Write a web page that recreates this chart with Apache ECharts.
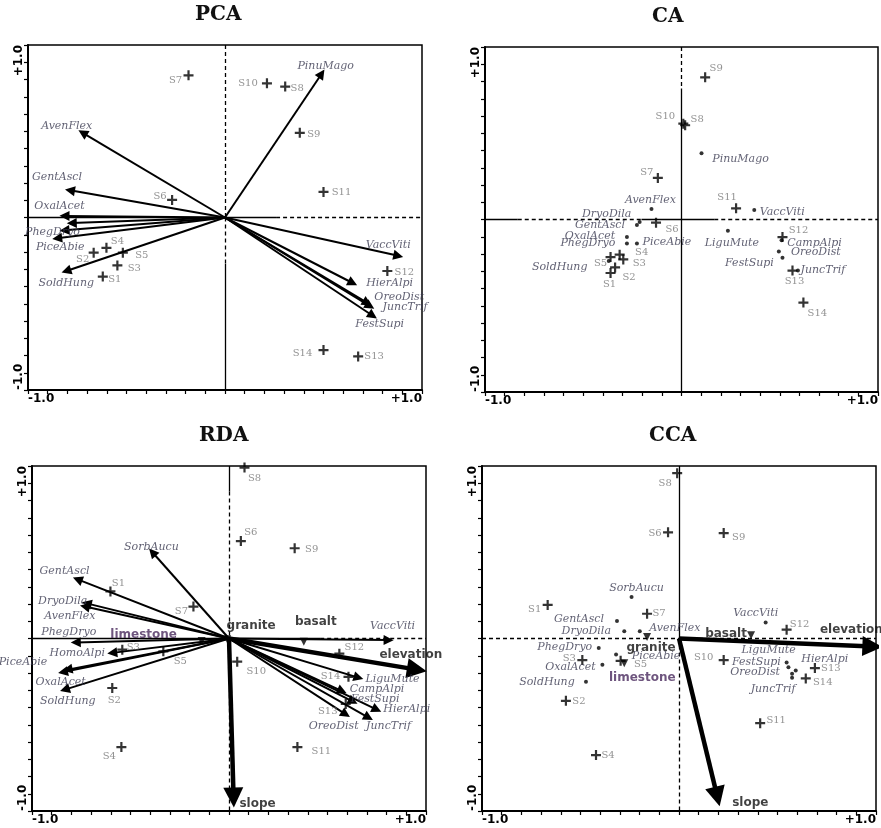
<!DOCTYPE html>
<html>
<head>
<meta charset="utf-8">
<script src="https://cdn.jsdelivr.net/npm/echarts@6/dist/echarts.min.js"></script>
<style>
html, body { margin: 0; background: #fff; }
#chart { width: 881px; height: 828px; }
</style>
</head>
<body>
<div id="chart"></div>
<script>
// axis half-range in ordination units, ticks every tenth of it
const AX = 1.08;
const tickLabels = ['-1.0', '+1.0'];
const titles = ['PCA', 'CA', 'RDA', 'CCA'];

// ---- PCA ----
const pcaSpecies = [
    ['PinuMago', 0.53, 0.90], ['AvenFlex', -0.78, 0.53], ['GentAscl', -0.85, 0.17],
    ['OxalAcet', -0.88, 0.01], ['DryoDila', -0.84, -0.035], ['PhegDryo', -0.88, -0.08],
    ['PiceAbie', -0.92, -0.13], ['SoldHung', -0.87, -0.335], ['VaccViti', 0.95, -0.24],
    ['HierAlpi', 0.70, -0.41], ['OreoDist', 0.78, -0.535], ['JuncTrif', 0.795, -0.555],
    ['FestSupi', 0.81, -0.615]
];
const pcaSites = [
    ['S7', -0.20, 0.89], ['S10', 0.23, 0.84], ['S8', 0.33, 0.82], ['S9', 0.41, 0.53],
    ['S11', 0.54, 0.16], ['S6', -0.29, 0.11], ['S4', -0.65, -0.19], ['S2', -0.72, -0.22],
    ['S5', -0.56, -0.22], ['S3', -0.59, -0.30], ['S1', -0.67, -0.37], ['S14', 0.54, -0.83],
    ['S13', 0.73, -0.87], ['S12', 0.89, -0.335]
];

// ---- CA ----
const caSpecies = [
    ['PinuMago', 0.11, 0.415], ['AvenFlex', -0.165, 0.065], ['VaccViti', 0.40, 0.06],
    ['DryoDila', -0.23, -0.015], ['GentAscl', -0.245, -0.035], ['OxalAcet', -0.30, -0.11],
    ['PhegDryo', -0.30, -0.15], ['PiceAbie', -0.245, -0.15], ['SoldHung', -0.40, -0.26],
    ['LiguMute', 0.255, -0.07], ['CampAlpi', 0.55, -0.13], ['OreoDist', 0.535, -0.20],
    ['FestSupi', 0.555, -0.24], ['JuncTrif', 0.64, -0.32]
];
const caSites = [
    ['S9', 0.13, 0.89], ['S10', 0.01, 0.60], ['S8', 0.02, 0.59], ['S7', -0.13, 0.26],
    ['S11', 0.30, 0.07], ['S6', -0.14, -0.02], ['S4', -0.34, -0.22], ['S3', -0.32, -0.25],
    ['S5', -0.39, -0.235], ['S2', -0.365, -0.30], ['S1', -0.39, -0.335], ['S12', 0.555, -0.11],
    ['S13', 0.61, -0.32], ['S14', 0.67, -0.52]
];

// ---- RDA ----
const rdaSpecies = [
    ['SorbAucu', -0.42, 0.54], ['GentAscl', -0.83, 0.37], ['DryoDila', -0.78, 0.22],
    ['AvenFlex', -0.79, 0.20], ['PhegDryo', -0.84, -0.025], ['HomoAlpi', -0.64, -0.09],
    ['PiceAbie', -0.91, -0.21], ['OxalAcet', -0.885, -0.195], ['SoldHung', -0.90, -0.32],
    ['VaccViti', 0.875, -0.01], ['LiguMute', 0.71, -0.245], ['CampAlpi', 0.62, -0.33],
    ['FestSupi', 0.68, -0.395], ['HierAlpi', 0.81, -0.445], ['JuncTrif', 0.765, -0.495],
    ['OreoDist', 0.64, -0.475]
];
const rdaEnv = [['elevation', 1.03, -0.195], ['slope', 0.025, -0.995]];
const rdaNominal = [['granite', -0.01, -0.005], ['basalt', 0.41, -0.02], ['limestone', -0.15, -0.015]];
const rdaSites = [
    ['S8', 0.085, 1.07], ['S6', 0.065, 0.61], ['S9', 0.36, 0.565], ['S7', -0.195, 0.20],
    ['S1', -0.65, 0.295], ['S3', -0.585, -0.07], ['S5', -0.36, -0.08], ['S2', -0.64, -0.31],
    ['S4', -0.59, -0.68], ['S10', 0.045, -0.145], ['S12', 0.605, -0.095], ['S14', 0.655, -0.24],
    ['S13', 0.64, -0.41], ['S11', 0.375, -0.68]
];

// ---- CCA ----
const ccaSpecies = [
    ['SorbAucu', -0.26, 0.26], ['GentAscl', -0.34, 0.11], ['DryoDila', -0.30, 0.045],
    ['AvenFlex', -0.215, 0.045], ['VaccViti', 0.475, 0.10], ['PhegDryo', -0.44, -0.06],
    ['OxalAcet', -0.42, -0.165], ['SoldHung', -0.51, -0.27], ['PiceAbie', -0.345, -0.10],
    ['LiguMute', 0.59, -0.15], ['HierAlpi', 0.64, -0.20], ['FestSupi', 0.60, -0.18],
    ['OreoDist', 0.62, -0.22], ['JuncTrif', 0.62, -0.245]
];
const ccaEnv = [['elevation', 1.06, -0.05], ['slope', 0.21, -0.99]];
const ccaNominal = [['granite', -0.175, 0.01], ['basalt', 0.395, 0.02], ['limestone', -0.30, -0.155]];
const ccaSites = [
    ['S8', -0.01, 1.035], ['S6', -0.06, 0.665], ['S9', 0.245, 0.66], ['S1', -0.72, 0.21],
    ['S7', -0.175, 0.155], ['S12', 0.59, 0.055], ['S3', -0.53, -0.135], ['S5', -0.32, -0.14],
    ['S2', -0.62, -0.39], ['S4', -0.455, -0.73], ['S10', 0.245, -0.135], ['S13', 0.745, -0.185],
    ['S14', 0.695, -0.25], ['S11', 0.445, -0.53]
];

// label offsets (px from the point to the label centre)
const pcaLabelAt = {
    PinuMago: [4, -8], AvenFlex: [-16, -7], GentAscl: [-13, -13], OxalAcet: [-5, -10],
    PhegDryo: [-12, 2], PiceAbie: [3, 9], SoldHung: [0, 12], VaccViti: [-10, -11],
    HierAlpi: [37, 0], OreoDist: [32, -6], JuncTrif: [35, 1], FestSupi: [7, 8],
    S7: [-13, 5], S10: [-19, 0], S8: [12, 2], S9: [14, 2], S11: [18, 0], S6: [-12, -4],
    S4: [11, -6], S2: [-11, 7], S5: [19, 3], S3: [17, 3], S1: [12, 3], S14: [-21, 3],
    S13: [16, 0], S12: [17, 1]
};
const caLabelAt = {
    S9: [11, -9], S10: [-18, -7], S8: [12, -6], S7: [-11, -6], S11: [-9, -11], S6: [16, 7],
    S4: [22, -2], S3: [16, 4], S5: [-10, 6], S2: [14, 10], S1: [-1, 11], S12: [16, -7],
    S13: [2, 11], S14: [14, 11],
    PinuMago: [39, 6], AvenFlex: [-1, -9], VaccViti: [28, 2], DryoDila: [-33, -8],
    GentAscl: [-37, 0], OxalAcet: [-37, -1], PhegDryo: [-39, 0], PiceAbie: [30, -1],
    SoldHung: [-49, 6], LiguMute: [4, 12], CampAlpi: [33, 3], OreoDist: [37, 1],
    FestSupi: [-33, 5], JuncTrif: [25, 0]
};
const rdaLabelAt = {
    SorbAucu: [-1, -5], GentAscl: [-13, -8], DryoDila: [-24, -2], AvenFlex: [-15, 10],
    PhegDryo: [-7, -10], HomoAlpi: [-35, 0], PiceAbie: [-40, -10], OxalAcet: [-7, 12],
    SoldHung: [3, 12], VaccViti: [4, -14], LiguMute: [34, 2], CampAlpi: [35, -2],
    FestSupi: [22, -2], HierAlpi: [30, 0], JuncTrif: [20, 9], OreoDist: [-12, 12],
    elevation: [-6, -15], slope: [24, 6], granite: [24, -13], basalt: [12, -20], limestone: [-58, -6],
    S8: [10, 11], S6: [10, -9], S9: [17, 1], S7: [-12, 5], S1: [8, -8], S3: [11, -2],
    S5: [17, 10], S2: [2, 12], S4: [-12, 9], S10: [19, 10], S12: [15, -6], S14: [-18, 0],
    S13: [-18, 7], S11: [24, 4]
};
const ccaLabelAt = {
    S8: [-12, 10], S6: [-13, 1], S9: [15, 4], S1: [-13, 4], S7: [12, 0], S12: [13, -5],
    S3: [-13, -2], S5: [20, 4], S2: [13, 1], S4: [12, 0], S10: [-20, -3], S13: [16, 0],
    S14: [17, 4], S11: [16, -3],
    SorbAucu: [5, -9], GentAscl: [-38, -2], DryoDila: [-38, 0], AvenFlex: [35, -3],
    VaccViti: [-10, -9], PhegDryo: [-34, -1], OxalAcet: [-32, 2], SoldHung: [-39, 1],
    PiceAbie: [40, 2], LiguMute: [-18, -12], HierAlpi: [29, -11], FestSupi: [-32, -5],
    OreoDist: [-37, -1], JuncTrif: [-19, 12],
    elevation: [-21, -17], slope: [33, 6], granite: [4, 11], basalt: [-25, -1], limestone: [18, 15]
};

const grids = [
    { left: 28, top: 45, width: 394, height: 345 },
    { left: 485, top: 47, width: 394, height: 345 },
    { left: 32, top: 466, width: 394, height: 345 },
    { left: 482, top: 466, width: 394, height: 345 }
];

// zero lines: [from, to, dash]
const zeroLines = [
    { h: [[-AX, 0.28, 'solid'], [0.28, AX, 'dashed']], v: [[AX, 0, 'dashed'], [0, -0.29, 'dashed'], [-0.29, -AX, 'solid']] },
    { h: [[-AX, -0.9, 'solid'], [-0.9, -0.22, 'dashed'], [-0.22, 0.18, 'solid'], [0.18, AX, 'dashed']], v: [[AX, 0.82, 'dashed'], [0.82, -AX, 'solid']] },
    { h: [[-AX, 0.5, 'solid'], [0.5, AX, 'dashed']], v: [[AX, 0.92, 'solid'], [0.92, -AX, 'dashed']] },
    { h: [[-AX, AX, 'dashed']], v: [[AX, 0, 'solid'], [0, -AX, 'dashed']] }
];

const PLUS = 'path://M0,3.9H10V6.1H0ZM3.9,0H6.1V10H3.9Z';
const speciesFont = { color: '#3a3a50', fontFamily: 'DejaVu Serif', fontStyle: 'italic', fontSize: 11 };
const siteFont = { color: '#777', fontFamily: 'DejaVu Serif', fontSize: 10 };
const envFont = { color: '#111', fontFamily: 'DejaVu Sans', fontWeight: 'bold', fontSize: 12 };

function arrows(i, rows, width, size) {
    return {
        type: 'lines', coordinateSystem: 'cartesian2d', xAxisIndex: i, yAxisIndex: i,
        silent: true, z: 3, symbol: ['none', 'triangle'], symbolSize: size,
        lineStyle: { color: '#000', width: width, opacity: 1 },
        itemStyle: { color: '#000' },
        data: rows.map(r => ({ coords: [[0, 0], [r[1], r[2]]] }))
    };
}

function points(i, rows, at, symbol, size, font, extra) {
    return Object.assign({
        type: 'scatter', xAxisIndex: i, yAxisIndex: i, silent: true, z: 5,
        symbol: symbol, symbolSize: size,
        itemStyle: { color: size > 1 ? '#000' : 'rgba(0,0,0,0)' },
        data: rows.map(r => ({
            name: r[0], value: [r[1], r[2]],
            label: at[r[0]]
                ? Object.assign({ show: true, position: 'inside', offset: at[r[0]], formatter: r[0] }, font)
                : { show: false }
        }))
    }, extra || {});
}

function zero(i) {
    const z = zeroLines[i];
    const dash = t => ({ type: t === 'dashed' ? [4, 3] : 'solid' });
    const data = z.h.map(s => ({ coords: [[s[0], 0], [s[1], 0]], lineStyle: dash(s[2]) }))
        .concat(z.v.map(s => ({ coords: [[0, s[0]], [0, s[1]]], lineStyle: dash(s[2]) })));
    return {
        type: 'lines', coordinateSystem: 'cartesian2d', xAxisIndex: i, yAxisIndex: i,
        silent: true, z: 2, symbol: 'none',
        lineStyle: { color: '#000', width: 1.3, opacity: 1 },
        data: data
    };
}

function edgeLabel(v) {
    if (Math.abs(v + AX) < 1e-6) return tickLabels[0];
    if (Math.abs(v - AX) < 1e-6) return tickLabels[1];
    return '';
}

const axisCommon = {
    type: 'value', min: -AX, max: AX, interval: AX / 10,
    splitLine: { show: false },
    axisLine: { show: true, onZero: false, lineStyle: { color: '#000', width: 2 } },
    axisTick: { show: true, inside: false, length: 4, lineStyle: { color: '#000', width: 1.2 } },
    axisLabel: {
        show: true, formatter: edgeLabel, showMinLabel: true, showMaxLabel: true,
        alignMinLabel: 'left', alignMaxLabel: 'right',
        color: '#000', fontFamily: 'DejaVu Sans', fontWeight: 'bold', fontSize: 12, margin: 3
    }
};

const xAxis = grids.map((g, i) => Object.assign({}, axisCommon, { gridIndex: i, position: 'bottom' }));
const yAxis = grids.map((g, i) => Object.assign({}, axisCommon, {
    gridIndex: i, position: 'left',
    axisLabel: Object.assign({}, axisCommon.axisLabel, { rotate: 90 })
}));

const series = [];
[0, 1, 2, 3].forEach(i => series.push(zero(i)));

// PCA
series.push(arrows(0, pcaSpecies, 2, 10));
series.push(points(0, pcaSpecies, pcaLabelAt, 'circle', 1, speciesFont));
series.push(points(0, pcaSites, pcaLabelAt, PLUS, 10, siteFont));
// CA
series.push(points(1, caSpecies, caLabelAt, 'circle', 4, speciesFont));
series.push(points(1, caSites, caLabelAt, PLUS, 10, siteFont));
// RDA
series.push(arrows(2, rdaSpecies, 2, 10));
series.push(arrows(2, rdaEnv, 4.5, 20));
series.push(points(2, rdaSpecies, rdaLabelAt, 'circle', 1, speciesFont));
series.push(points(2, rdaEnv, rdaLabelAt, 'circle', 1, envFont));
series.push(points(2, rdaNominal, rdaLabelAt, 'triangle', 8, envFont, { symbolRotate: 180 }));
series.push(points(2, rdaSites, rdaLabelAt, PLUS, 10, siteFont));
// CCA
series.push(arrows(3, ccaEnv, 4.5, 20));
series.push(points(3, ccaSpecies, ccaLabelAt, 'circle', 4, speciesFont));
series.push(points(3, ccaEnv, ccaLabelAt, 'circle', 1, envFont));
series.push(points(3, ccaNominal, ccaLabelAt, 'triangle', 8, envFont, { symbolRotate: 180 }));
series.push(points(3, ccaSites, ccaLabelAt, PLUS, 10, siteFont));

// limestone label is purple in the figure
series.forEach(s => {
    if (s.type === 'scatter') s.data.forEach(d => { if (d.name === 'limestone' && d.label.show) d.label.color = '#4a2a5e'; });
});

const titleGraphics = grids.map((g, i) => ({
    type: 'text', left: g.left + g.width / 2 - 30, top: g.top - 40,
    style: { text: titles[i], font: 'bold 20px "DejaVu Serif"', fill: '#111', textAlign: 'center', width: 60 }
}));

const chart = echarts.init(document.getElementById('chart'));
chart.setOption({
    animation: false,
    backgroundColor: '#fff',
    grid: grids.map(g => Object.assign({ show: true, borderColor: '#000', borderWidth: 1.5, backgroundColor: 'transparent' }, g)),
    xAxis: xAxis,
    yAxis: yAxis,
    graphic: titleGraphics,
    series: series
});
</script>
</body>
</html>
